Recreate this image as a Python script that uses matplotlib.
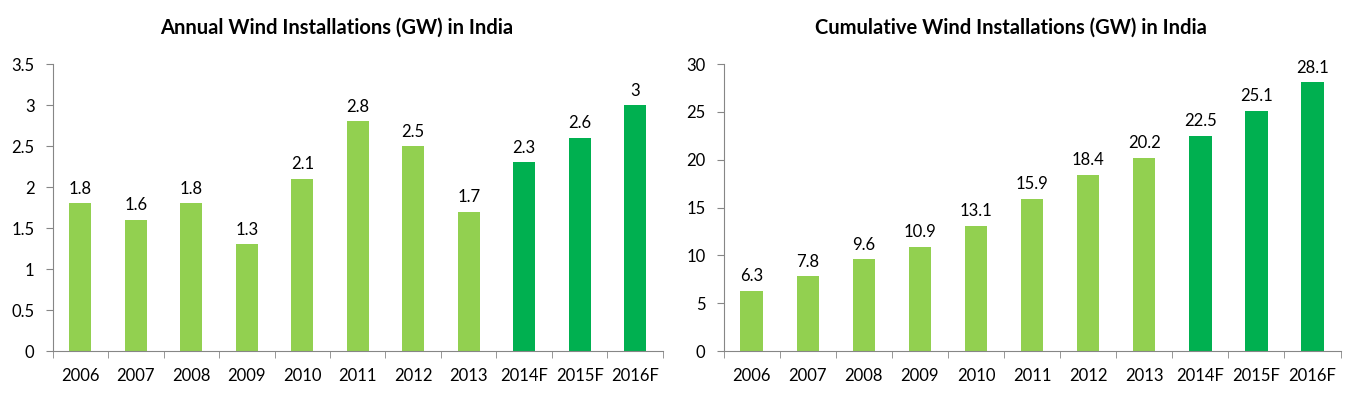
import numpy as np
import matplotlib.pyplot as plt

plt.rcParams['font.family'] = ['Lato', 'DejaVu Sans']

years = ['2006', '2007', '2008', '2009', '2010', '2011', '2012', '2013', '2014F', '2015F', '2016F']
annual = [1.8, 1.6, 1.8, 1.3, 2.1, 2.8, 2.5, 1.7, 2.3, 2.6, 3.0]
cumulative = [6.3, 7.8, 9.6, 10.9, 13.1, 15.9, 18.4, 20.2, 22.5, 25.1, 28.1]
annual_labels = ['1.8', '1.6', '1.8', '1.3', '2.1', '2.8', '2.5', '1.7', '2.3', '2.6', '3']
cumulative_labels = ['6.3', '7.8', '9.6', '10.9', '13.1', '15.9', '18.4', '20.2', '22.5', '25.1', '28.1']

light = '#92D050'
dark = '#00B050'
colors = [dark if y.endswith('F') else light for y in years]
axis_col = '#868686'


def drawPanel(ax, values, labels, title, ymax, ystep, offset):
    x = np.arange(len(years))
    ax.bar(x, values, width=0.4, color=colors, zorder=2)
    for i in range(len(values)):
        ax.text(x[i], values[i] + offset, labels[i], ha='center', va='bottom', fontsize=12)
    ax.set_xlim(-0.5, len(years) - 0.5)
    ax.set_ylim(0, ymax)
    ticks = np.arange(0, ymax + ystep / 2, ystep)
    ax.set_yticks(ticks)
    ax.set_yticklabels(['{:g}'.format(t) for t in ticks], fontsize=12)
    ax.set_xticks(x)
    ax.set_xticklabels(years, fontsize=12)
    ax.set_xticks(np.arange(-0.5, len(years), 1), minor=True)
    ax.tick_params(axis='x', which='major', length=0, pad=12)
    ax.tick_params(axis='x', which='minor', length=5, color=axis_col, direction='out')
    ax.tick_params(axis='y', length=5, color=axis_col, pad=8)
    for s in ['top', 'right']:
        ax.spines[s].set_visible(False)
    for s in ['left', 'bottom']:
        ax.spines[s].set_color(axis_col)
    ax.set_title(title, fontsize=14.5, fontweight='bold', pad=22, x=0.465)


fig = plt.figure(figsize=(13.5, 3.98), dpi=100)
ax1 = fig.add_axes([0.039, 0.118, 0.452, 0.721])
ax2 = fig.add_axes([0.536, 0.118, 0.457, 0.721])

drawPanel(ax1, annual, annual_labels, 'Annual Wind Installations (GW) in India', 3.5, 0.5, 0.08)
drawPanel(ax2, cumulative, cumulative_labels, 'Cumulative Wind Installations (GW) in India', 30, 5, 0.7)

fig.savefig('out.png', dpi=100)
